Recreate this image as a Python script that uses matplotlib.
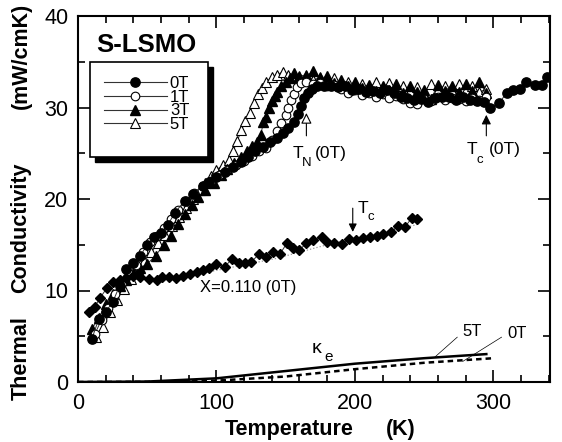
import matplotlib
matplotlib.use("Agg")
import matplotlib.pyplot as plt
from matplotlib.patches import Rectangle

plt.rcParams['font.family'] = ['Liberation Sans', 'DejaVu Sans']

# ---------------- data ----------------
t_0T = [10, 15, 20, 25, 30, 35, 40, 45, 50, 55, 60, 65, 70, 77, 83, 90, 95, 100, 106, 112,
        118, 123, 128, 134, 139, 144, 148, 152, 156, 159, 161, 163, 166, 169, 173, 178, 183,
        188, 193, 198, 203, 208, 213, 218, 223, 228, 233, 238, 243, 248, 253, 258, 263, 268,
        273, 278, 283, 288, 293, 298, 304, 310, 314, 319, 324, 330, 335, 339]
k_0T = [4.7, 6.9, 7.7, 8.7, 10.5, 12.3, 13.0, 13.8, 15.0, 15.8, 16.3, 17.2, 18.5, 19.8, 20.6,
        21.4, 21.9, 22.4, 23.0, 23.5, 24.0, 24.6, 25.2, 25.7, 26.2, 26.7, 27.2, 27.8, 28.4,
        29.3, 30.2, 31.0, 31.6, 32.0, 32.3, 32.3, 32.4, 32.2, 32.3, 31.9, 32.0, 31.7, 31.8,
        31.6, 31.9, 31.6, 31.2, 31.0, 30.8, 30.9, 30.6, 31.0, 31.1, 31.1, 30.8, 31.1, 30.8,
        30.7, 30.6, 30.0, 30.5, 31.6, 31.9, 32.0, 32.8, 32.5, 32.5, 33.3]

t_1T = [12, 17, 22, 27, 32, 37, 42, 47, 52, 57, 62, 67, 72, 78, 84, 90, 96, 102, 108, 114,
        120, 126, 131, 136, 140, 144, 147, 150, 152, 154, 156, 158, 161, 165, 170, 175, 180,
        185, 190, 195, 200, 205, 210, 215, 220, 225, 230, 235, 240, 245, 250, 255, 260, 265,
        270, 275, 280, 285, 290, 295]
k_1T = [5.2, 6.8, 8.1, 9.6, 10.8, 11.8, 12.8, 14.2, 15.3, 16.0, 16.8, 17.8, 18.8, 19.8, 20.7,
        21.4, 22.0, 22.6, 23.2, 23.7, 24.2, 24.7, 25.2, 25.6, 26.4, 27.4, 28.3, 29.2, 30.0,
        30.8, 31.5, 32.2, 32.7, 32.8, 32.6, 32.7, 32.4, 32.5, 32.0, 31.6, 31.9, 31.4, 31.6,
        31.2, 31.5, 31.0, 31.3, 30.9, 30.5, 30.4, 30.9, 30.7, 31.1, 30.8, 31.0, 30.9, 30.7,
        31.0, 30.8, 31.2]

t_3T = [10, 15, 20, 25, 30, 35, 40, 45, 50, 56, 62, 67, 72, 77, 82, 87, 92, 98, 103, 108,
        113, 118, 122, 126, 129, 132, 134, 136, 138, 140, 142, 144, 147, 150, 153, 156, 160,
        165, 170, 175, 180, 185, 190, 195, 200, 205, 210, 215, 220, 225, 230, 235, 240, 245,
        250, 255, 260, 265, 270, 275, 280, 285, 290, 295]
k_3T = [5.8, 7.0, 8.5, 9.6, 10.5, 11.2, 11.9, 12.5, 12.9, 13.8, 15.0, 16.0, 17.3, 18.4, 19.3,
        20.2, 21.0, 21.8, 22.6, 23.3, 23.9, 24.6, 25.3, 25.8, 26.2, 27.0, 28.4, 29.0, 30.0,
        30.7, 31.3, 31.7, 32.3, 32.8, 33.2, 33.8, 33.3, 33.4, 34.0, 33.2, 33.4, 32.7, 33.0,
        32.4, 32.8, 32.1, 32.5, 31.8, 32.3, 31.9, 32.6, 31.6, 32.4, 31.7, 31.9, 30.9, 32.5,
        31.8, 32.4, 31.7, 32.6, 31.8, 32.8, 31.6]

t_5T = [13, 18, 23, 28, 33, 38, 43, 48, 53, 58, 63, 68, 73, 78, 83, 88, 92, 96, 100, 105,
        109, 112, 115, 118, 121, 124, 127, 130, 133, 136, 140, 144, 148, 152, 156, 160, 165,
        170, 175, 180, 185, 190, 195, 200, 205, 210, 215, 220, 225, 230, 235, 240, 245, 250,
        255, 260, 265, 270, 275, 280, 285, 290, 295]
k_5T = [4.9, 6.0, 7.6, 9.0, 10.2, 11.3, 12.4, 13.2, 14.2, 15.2, 16.1, 17.0, 18.0, 19.0, 20.0,
        21.0, 21.8, 22.5, 23.2, 23.7, 24.3, 25.2, 26.3, 27.5, 28.5, 29.4, 30.5, 31.5, 32.1,
        32.8, 33.3, 33.6, 33.9, 33.6, 33.3, 33.4, 33.6, 33.0, 33.3, 32.9, 33.2, 32.6, 32.8,
        32.3, 32.6, 32.0, 32.8, 32.2, 32.7, 32.0, 32.4, 31.8, 32.2, 31.5, 32.6, 31.9, 32.4,
        31.8, 32.6, 31.9, 32.3, 31.7, 32.0]

t_x110 = [8, 12, 16, 21, 25, 30, 35, 40, 45, 51, 57, 61, 66, 71, 76, 81, 86, 90, 95, 100,
          106, 111, 116, 121, 125, 131, 136, 141, 146, 151, 155, 160, 165, 170, 176, 180,
          185, 191, 196, 201, 206, 211, 216, 220, 226, 231, 236, 241, 245]
k_x110 = [7.6, 8.2, 9.2, 10.3, 10.9, 11.2, 11.4, 11.6, 11.5, 11.3, 11.2, 11.5, 11.5, 11.4,
          11.6, 11.8, 12.0, 12.2, 12.5, 12.9, 12.6, 13.4, 13.0, 13.0, 13.1, 14.0, 13.7, 14.2,
          14.0, 15.2, 14.6, 14.4, 15.2, 15.5, 15.8, 15.3, 15.2, 15.1, 15.6, 15.5, 15.7, 15.9,
          16.0, 16.2, 16.4, 17.0, 16.9, 17.9, 17.8]

t_x110_fit = [60, 100, 143, 180, 245]
k_x110_fit = [11.0, 12.2, 13.5, 15.0, 17.2]

t_ke5 = [0, 50, 100, 150, 200, 250, 295]
k_ke5 = [0.0, 0.05, 0.4, 1.2, 2.0, 2.6, 3.05]
t_ke0 = [0, 50, 100, 150, 200, 250, 300]
k_ke0 = [0.0, 0.02, 0.15, 0.6, 1.4, 2.1, 2.6]

legend_labels = ['0T', '1T', '3T', '5T']

# ---------------- figure ----------------
fig = plt.figure(figsize=(5.62, 4.42), dpi=100)
W, H = 562.0, 442.0
ax = fig.add_axes([78 / W, (H - 382) / H, 472 / W, 366 / H])

lc = '#333333'
lw = 0.7
h5, = ax.plot(t_5T, k_5T, '-', color=lc, lw=lw, marker='^', ms=6.6, mfc='white', mec='k', mew=0.8)
h3, = ax.plot(t_3T, k_3T, '-', color=lc, lw=lw, marker='^', ms=7.0, mfc='k', mec='k')
h1, = ax.plot(t_1T, k_1T, '-', color=lc, lw=lw, marker='o', ms=6.2, mfc='white', mec='k', mew=0.8)
h0, = ax.plot(t_0T, k_0T, '-', color=lc, lw=lw, marker='o', ms=6.7, mfc='k', mec='k')

ax.plot(t_x110_fit, k_x110_fit, ':', color='#999999', lw=0.9)
ax.plot(t_x110, k_x110, '-', color=lc, lw=lw, marker='D', ms=4.6, mfc='k', mec='k')

ax.plot(t_ke5, k_ke5, '-', color='k', lw=1.8)
ax.plot(t_ke0, k_ke0, '--', color='k', lw=1.8, dashes=(2.2, 1.6))

ax.set_xlim(0, 341)
ax.set_ylim(0, 40)
ax.set_xticks([0, 100, 200, 300])
ax.set_xticks(range(0, 341, 20), minor=True)
ax.set_yticks([0, 10, 20, 30, 40])
ax.set_yticks(range(0, 41, 5), minor=True)
ax.tick_params(which='both', direction='in', top=True, right=True, width=1.2, labelsize=15.5)
ax.tick_params(which='major', length=8.5)
ax.tick_params(which='minor', length=5)
ax.tick_params(axis='x', pad=8)
ax.tick_params(axis='y', pad=7)
for s in ax.spines.values():
    s.set_linewidth(1.5)

# axis labels (spaced words)
fig.text(21 / W, 1 - 358 / H, 'Thermal', rotation=90, ha='center', va='center',
         fontsize=15.5, fontweight='bold')
fig.text(21 / W, 1 - 228 / H, 'Conductivity', rotation=90, ha='center', va='center',
         fontsize=15.5, fontweight='bold')
fig.text(21 / W, 1 - 56 / H, '(mW/cmK)', rotation=90, ha='center', va='center',
         fontsize=15.5, fontweight='bold')
fig.text(289 / W, 1 - 430 / H, 'Temperature', ha='center', va='center',
         fontsize=15.5, fontweight='bold')
fig.text(401 / W, 1 - 430 / H, '(K)', ha='center', va='center',
         fontsize=15.5, fontweight='bold')

fig.text(146 / W, 1 - 45 / H, 'S-LSMO', ha='center', va='center', fontsize=18.5, fontweight='bold')

# legend box with shadow
tr = ax.transAxes
x0, x1 = (90 - 78) / 472, (208 - 78) / 472
y0, y1 = (382 - 157) / 366, (382 - 62) / 366
sh = 5 / 472, 5 / 366
ax.add_patch(Rectangle((x0 + sh[0], y0 - sh[1]), x1 - x0, y1 - y0, transform=tr,
                       facecolor='k', edgecolor='k', zorder=8, clip_on=False))
ax.add_patch(Rectangle((x0, y0), x1 - x0, y1 - y0, transform=tr,
                       facecolor='white', edgecolor='k', lw=1.2, zorder=9, clip_on=False))
leg = ax.legend([h0, h1, h3, h5], legend_labels, loc='upper left',
                bbox_to_anchor=((104 - 78) / 472, (382 - 76) / 366), frameon=False,
                fontsize=12, handlelength=3.75, handletextpad=0.2, labelspacing=-0.08,
                borderaxespad=0, borderpad=0)
leg.set_zorder(10)
for lh in leg.legend_handles:
    lh.set_linewidth(0.8)

# annotations
ax.annotate('', xy=(165, 29.7), xytext=(165, 26.6),
            arrowprops=dict(arrowstyle='-|>', fc='white', ec='k', lw=0.8, mutation_scale=16))
ax.text(155, 25.0, 'T', fontsize=12.5, ha='left', va='center')
ax.text(162, 23.9, 'N', fontsize=9.5, ha='left', va='center')
ax.text(171, 25.0, '(0T)', fontsize=12.5, ha='left', va='center')

ax.annotate('', xy=(295, 29.5), xytext=(295, 26.6),
            arrowprops=dict(arrowstyle='-|>', fc='k', ec='k', lw=0.8, mutation_scale=14))
ax.text(281, 25.4, 'T', fontsize=12.5, ha='left', va='center')
ax.text(288, 24.3, 'c', fontsize=9.5, ha='left', va='center')
ax.text(297, 25.4, '(0T)', fontsize=12.5, ha='left', va='center')

ax.annotate('', xy=(198.5, 16.1), xytext=(198.5, 19.3),
            arrowprops=dict(arrowstyle='-|>', fc='k', ec='k', lw=0.8, mutation_scale=12))
ax.text(202, 19.0, 'T', fontsize=12.5, ha='left', va='center')
ax.text(209, 18.0, 'c', fontsize=9.5, ha='left', va='center')

ax.text(88, 10.3, 'X=0.110 (0T)', fontsize=12, ha='left', va='center')

ax.text(169, 3.7, 'κ', fontsize=14, ha='left', va='center')
ax.text(178, 2.7, 'e', fontsize=11, ha='left', va='center')

ax.text(285, 5.5, '5T', fontsize=12, ha='center', va='center')
ax.plot([274, 258], [4.9, 2.75], '-', color='k', lw=0.5)
ax.text(317, 5.3, '0T', fontsize=12, ha='center', va='center')
ax.plot([306, 278], [4.9, 2.25], '-', color='k', lw=0.5)

fig.savefig('out.png', dpi=100)
